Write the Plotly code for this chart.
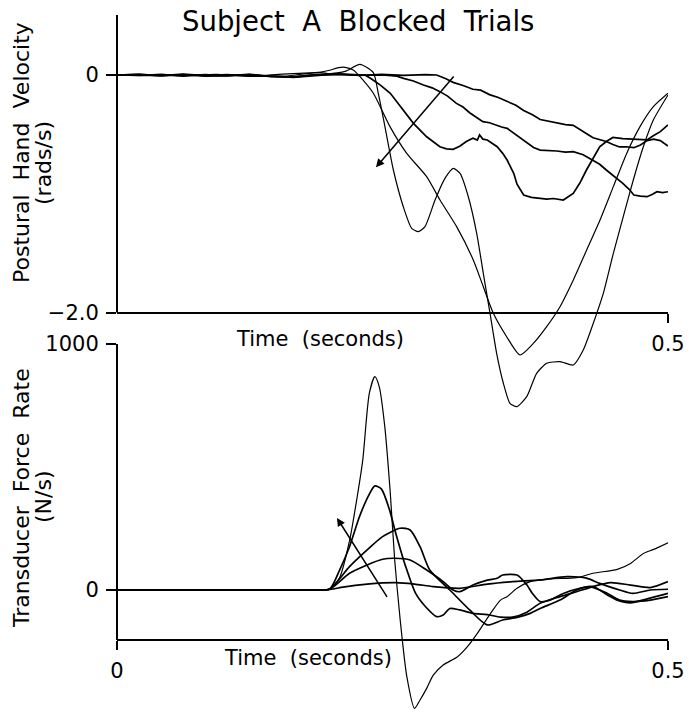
import plotly.graph_objects as go

W, H = 689, 712
FONT = "DejaVu Sans"

# ---------------- data: top panel (postural hand velocity, rads/s) ----------------
T1_T = [0.000,0.020,0.040,0.060,0.080,0.100,0.120,0.140,0.160,0.180,0.200,0.220,0.240,0.260,0.280,0.290,0.298,0.305,0.314,0.323,0.330,0.338,0.346,0.354,0.362,0.369,0.377,0.384,0.392,0.399,0.407,0.414,0.419,0.423,0.428,0.432,0.438,0.444,0.450,0.456,0.462,0.469,0.475,0.481,0.487,0.493,0.500]
T1_V = [0.000,0.005,-0.008,0.004,-0.010,-0.006,0.006,-0.012,-0.015,0.004,0.008,-0.004,0.006,-0.003,0.004,0.000,-0.030,-0.062,-0.088,-0.120,-0.128,-0.165,-0.190,-0.222,-0.255,-0.298,-0.335,-0.375,-0.392,-0.402,-0.418,-0.424,-0.452,-0.470,-0.505,-0.528,-0.545,-0.560,-0.585,-0.606,-0.604,-0.612,-0.590,-0.552,-0.540,-0.552,-0.598]

T2_T = [0.000,0.020,0.040,0.060,0.080,0.100,0.120,0.140,0.160,0.180,0.200,0.220,0.241,0.254,0.260,0.269,0.278,0.286,0.293,0.300,0.308,0.314,0.320,0.326,0.332,0.338,0.343,0.349,0.354,0.359,0.363,0.368,0.372,0.378,0.384,0.392,0.399,0.407,0.414,0.423,0.432,0.438,0.444,0.452,0.459,0.465,0.469,0.475,0.481,0.486,0.490,0.495,0.500]
T2_V = [0.000,-0.004,0.006,-0.010,0.003,-0.008,0.004,-0.014,-0.018,0.002,0.006,-0.002,0.000,-0.010,-0.028,-0.050,-0.084,-0.108,-0.140,-0.178,-0.239,-0.270,-0.318,-0.355,-0.393,-0.402,-0.420,-0.438,-0.449,-0.482,-0.512,-0.548,-0.575,-0.610,-0.632,-0.636,-0.640,-0.650,-0.646,-0.672,-0.716,-0.752,-0.800,-0.858,-0.912,-0.965,-1.011,-1.020,-1.025,-1.005,-0.983,-0.990,-0.983]

T3_T = [0.000,0.020,0.040,0.060,0.080,0.100,0.120,0.140,0.160,0.180,0.200,0.215,0.225,0.230,0.239,0.248,0.258,0.269,0.281,0.293,0.299,0.305,0.311,0.317,0.323,0.327,0.329,0.332,0.336,0.341,0.345,0.350,0.354,0.360,0.363,0.369,0.376,0.384,0.390,0.396,0.405,0.414,0.420,0.426,0.432,0.438,0.444,0.450,0.459,0.469,0.481,0.487,0.493,0.500]
T3_V = [0.000,0.006,-0.005,0.008,-0.006,0.004,-0.010,-0.008,-0.020,-0.006,0.010,0.004,0.000,-0.028,-0.085,-0.154,-0.270,-0.407,-0.520,-0.604,-0.622,-0.626,-0.600,-0.560,-0.533,-0.548,-0.505,-0.540,-0.547,-0.575,-0.604,-0.660,-0.716,-0.828,-0.920,-1.011,-1.030,-1.039,-1.045,-1.040,-1.053,-0.997,-0.910,-0.800,-0.700,-0.604,-0.560,-0.526,-0.535,-0.543,-0.547,-0.510,-0.477,-0.421]

T4_T = [0.000,0.030,0.060,0.090,0.120,0.150,0.170,0.185,0.193,0.207,0.2205,0.2326,0.2370,0.242,0.2508,0.2598,0.2674,0.2734,0.2795,0.2886,0.2976,0.3052,0.3113,0.3188,0.3264,0.3324,0.3385,0.3445,0.3506,0.3566,0.3627,0.3718,0.3808,0.3899,0.402,0.4141,0.4231,0.4322,0.4413,0.4504,0.4594,0.4685,0.4776,0.4867,0.500]
T4_V = [0.000,-0.006,0.004,-0.008,0.002,-0.012,0.010,0.020,0.010,0.030,0.090,0.020,-0.150,-0.379,-0.800,-1.109,-1.291,-1.319,-1.277,-1.053,-0.870,-0.786,-0.828,-1.025,-1.333,-1.670,-2.007,-2.344,-2.596,-2.765,-2.793,-2.709,-2.512,-2.428,-2.414,-2.442,-2.316,-2.091,-1.839,-1.502,-1.193,-0.884,-0.604,-0.379,-0.168]

T5_T = [0.000,0.030,0.060,0.090,0.120,0.150,0.170,0.185,0.193,0.200,0.207,0.2144,0.2205,0.2326,0.2477,0.2629,0.281,0.2931,0.3082,0.3233,0.3324,0.3415,0.3536,0.3657,0.3778,0.3899,0.402,0.4141,0.4262,0.4383,0.4504,0.4625,0.4746,0.4867,0.500]
T5_V = [0.000,0.004,-0.006,0.006,-0.010,0.008,0.015,0.025,0.040,0.060,0.065,0.042,-0.014,-0.154,-0.435,-0.660,-0.856,-1.053,-1.277,-1.558,-1.783,-2.007,-2.204,-2.358,-2.260,-2.119,-1.951,-1.726,-1.474,-1.221,-0.940,-0.660,-0.435,-0.267,-0.154]

# ---------------- data: bottom panel (transducer force rate, N/s) ----------------
B1_T = [0.000,0.100,0.193,0.205,0.227,0.253,0.270,0.287,0.311,0.336,0.359,0.384,0.408,0.426,0.438,0.456,0.468,0.484,0.500]
B1_F = [0,0,2,12,24,30,24,14,7,24,34,41,54,48,27,0,-14,0,3]

B2_T = [0.000,0.100,0.180,0.193,0.211,0.227,0.241,0.252,0.266,0.281,0.296,0.305,0.311,0.323,0.336,0.345,0.350,0.363,0.372,0.377,0.384,0.393,0.405,0.420,0.432,0.445,0.454,0.466,0.477,0.495,0.500]
B2_F = [0,0,0.5,3,68,102,125,129,122,81,34,0,-7,20,40,48,61,61,20,-14,-47,-41,-14,7,14,-20,-41,-52,-41,-20,-14]

B3_T = [0.000,0.100,0.180,0.193,0.211,0.227,0.241,0.257,0.266,0.275,0.284,0.302,0.320,0.336,0.350,0.363,0.375,0.384,0.402,0.417,0.429,0.445,0.456,0.468,0.484,0.500]
B3_F = [0,0,0.5,4,95,163,217,251,244,176,80,0,-81,-142,-122,-111,-95,-75,-41,0,14,-14,-41,-47,-41,-27]

B4_T = [0.000,0.100,0.180,0.193,0.202,0.211,0.220,0.229,0.234,0.240,0.247,0.253,0.262,0.271,0.280,0.290,0.296,0.302,0.311,0.323,0.336,0.348,0.359,0.372,0.384,0.402,0.417,0.432,0.448,0.466,0.484,0.500]
B4_F = [0,0,0.5,4,81,176,298,390,423,410,330,230,95,-14,-68,-108,-102,-75,-81,-95,-100,-110,-110,-90,-54,-27,-7,14,30,20,10,34]

B5_T = [0.000,0.100,0.180,0.193,0.202,0.211,0.218,0.223,0.229,0.234,0.238,0.243,0.248,0.252,0.257,0.263,0.270,0.275,0.281,0.287,0.296,0.309,0.318,0.327,0.339,0.348,0.354,0.363,0.375,0.393,0.417,0.432,0.454,0.466,0.478,0.487,0.500]
B5_F = [0,0,0.5,4,50,200,380,528,800,867,826,664,393,122,-122,-352,-481,-447,-400,-346,-305,-271,-230,-176,-95,-41,-27,7,34,45,50,68,84,108,149,165,192]

# ticks / labels
TOP_YTICKS = [0, -2.0]
TOP_YTICKTEXT = ["0", "\u22122.0"]
TOP_XTICKS = [0.5]
TOP_XTICKTEXT = ["0.5"]
BOT_YTICKS = [0, 1000]
BOT_YTICKTEXT = ["0", "1000"]
BOT_XTICKS = [0, 0.5]
BOT_XTICKTEXT = ["0", "0.5"]

# arrows (head, tail) in data units
TOP_ARROW = dict(head=(0.235, -0.777), tail=(0.3067, 0.0))
BOT_ARROW = dict(head=(0.1996, 293), tail=(0.2459, -34))

# ---------------- geometry helpers (pixel -> paper) ----------------
def fx(px):
    return px / W

def fy(py):
    return 1 - py / H

X_LEFT, X_RIGHT = 117, 668
TOP_PX_PER_UNIT = (312.5 - 75) / 2.0
TOP_DOM = (15, 418)
top_range = [-(TOP_DOM[1] - 75) / TOP_PX_PER_UNIT, (75 - TOP_DOM[0]) / TOP_PX_PER_UNIT]
BOT_PX_PER_UNIT = (590 - 344) / 1000
BOT_DOM = (344, 712)
bot_range = [-(BOT_DOM[1] - 590) / BOT_PX_PER_UNIT, (590 - BOT_DOM[0]) / BOT_PX_PER_UNIT]
BOT_AXIS_VALUE = -(640 - 590) / BOT_PX_PER_UNIT

fig = go.Figure()

for t, v, w, shp in [(T1_T, T1_V, 1.7, "linear"), (T2_T, T2_V, 1.7, "linear"),
                     (T3_T, T3_V, 1.7, "linear"), (T4_T, T4_V, 1.2, "spline"),
                     (T5_T, T5_V, 1.2, "spline")]:
    fig.add_trace(go.Scatter(x=t, y=v, mode="lines", xaxis="x", yaxis="y",
                             line=dict(color="black", width=w, shape=shp, smoothing=0.6),
                             showlegend=False, hoverinfo="skip"))

for t, f, w in [(B1_T, B1_F, 1.7), (B2_T, B2_F, 1.7), (B3_T, B3_F, 1.7),
                (B4_T, B4_F, 1.7), (B5_T, B5_F, 1.2)]:
    fig.add_trace(go.Scatter(x=t, y=f, mode="lines", xaxis="x2", yaxis="y2",
                             line=dict(color="black", width=w, shape="spline", smoothing=0.7),
                             showlegend=False, hoverinfo="skip"))

tickfont = dict(family=FONT, size=21, color="black")
common_x = dict(domain=[fx(X_LEFT), fx(X_RIGHT)], range=[0, 0.5], anchor="free",
                showline=True, linecolor="black", linewidth=2, ticks="outside",
                ticklen=9, tickwidth=1.5, tickcolor="black", showgrid=False,
                zeroline=False, tickfont=tickfont, ticklabelstandoff=3, automargin=False)
common_y = dict(showline=False, ticks="outside", ticklen=10, tickwidth=1.5,
                tickcolor="black", showgrid=False, zeroline=False, tickfont=tickfont,
                ticklabelstandoff=3, automargin=False)

fig.update_layout(
    width=W, height=H, margin=dict(l=0, r=0, t=0, b=0, pad=0, autoexpand=False),
    paper_bgcolor="white", plot_bgcolor="rgba(0,0,0,0)",
    xaxis=dict(common_x, position=fy(312.5), tickvals=TOP_XTICKS, ticktext=TOP_XTICKTEXT),
    yaxis=dict(common_y, domain=[fy(TOP_DOM[1]), fy(TOP_DOM[0])], range=top_range,
               anchor="x", tickvals=TOP_YTICKS, ticktext=TOP_YTICKTEXT),
    xaxis2=dict(common_x, position=fy(640), tickvals=BOT_XTICKS, ticktext=BOT_XTICKTEXT),
    yaxis2=dict(common_y, domain=[fy(BOT_DOM[1]), fy(BOT_DOM[0])], range=bot_range,
                anchor="x2", tickvals=BOT_YTICKS, ticktext=BOT_YTICKTEXT),
)

fig.add_shape(type="line", xref="paper", yref="y", x0=fx(X_LEFT), x1=fx(X_LEFT),
              y0=-2.0, y1=top_range[1], line=dict(color="black", width=2))
fig.add_shape(type="line", xref="paper", yref="y2", x0=fx(X_LEFT), x1=fx(X_LEFT),
              y0=BOT_AXIS_VALUE, y1=1000, line=dict(color="black", width=2))

fig.add_annotation(x=TOP_ARROW["head"][0], y=TOP_ARROW["head"][1], xref="x", yref="y",
                   ax=TOP_ARROW["tail"][0], ay=TOP_ARROW["tail"][1], axref="x", ayref="y",
                   text="", showarrow=True, arrowhead=2, arrowsize=1.1, arrowwidth=1.5,
                   arrowcolor="black")
fig.add_annotation(x=BOT_ARROW["head"][0], y=BOT_ARROW["head"][1], xref="x2", yref="y2",
                   ax=BOT_ARROW["tail"][0], ay=BOT_ARROW["tail"][1], axref="x2", ayref="y2",
                   text="", showarrow=True, arrowhead=2, arrowsize=1.1, arrowwidth=1.5,
                   arrowcolor="black")

def label(text, x, y, size=21, angle=0):
    fig.add_annotation(text=text, x=fx(x), y=fy(y), xref="paper", yref="paper",
                       showarrow=False, textangle=angle, xanchor="center", yanchor="middle",
                       font=dict(family=FONT, size=size, color="black"))

label("Subject  A  Blocked  Trials", 358, 21, size=27.5)
label("Time  (seconds)", 320, 339)
label("Time  (seconds)", 308, 658)
label("Postural  Hand  Velocity", 21, 153, size=22, angle=-90)
label("(rads/s)", 44, 163, size=22, angle=-90)
label("Transducer  Force  Rate", 21, 498, size=22, angle=-90)
label("(N/s)", 44, 497, size=22, angle=-90)

fig.write_html("out.html")
